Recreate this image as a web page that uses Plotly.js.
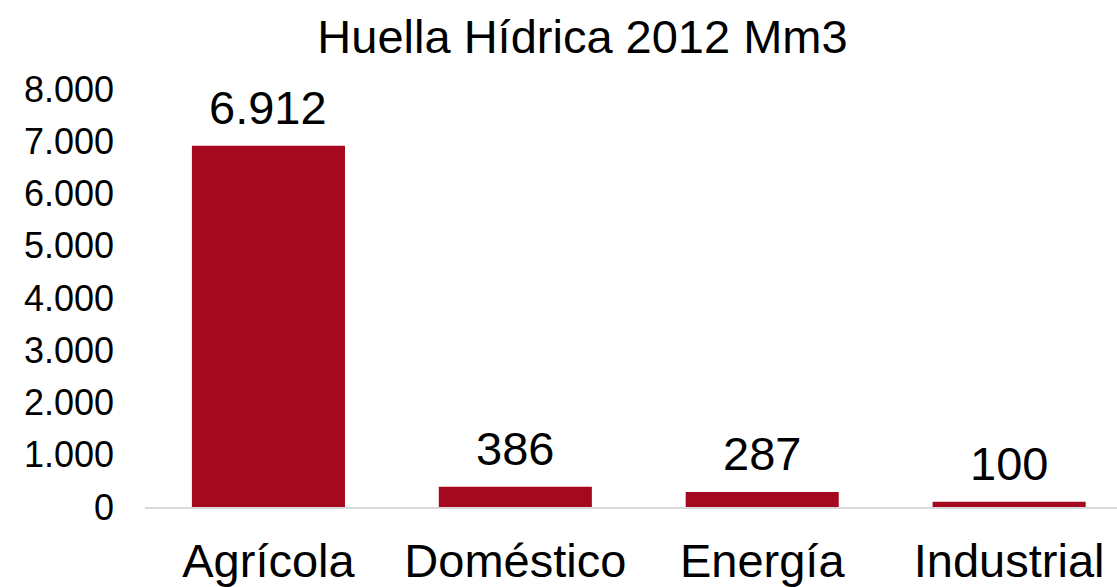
<!DOCTYPE html>
<html>
<head>
<meta charset="utf-8">
<script src="https://cdn.plot.ly/plotly-3.0.1.min.js"></script>
<style>html,body{margin:0;padding:0;background:#fff;}#chart{width:1117px;height:587px;}</style>
</head>
<body>
<div id="chart"></div>
<script>
const categories = ["Agrícola", "Doméstico", "Energía", "Industrial"];
const values = [6912, 386, 287, 100];
const valueLabels = ["6.912", "386", "287", "100"];
const yTickValues = [0, 1000, 2000, 3000, 4000, 5000, 6000, 7000, 8000];
const yTickLabels = ["0", "1.000", "2.000", "3.000", "4.000", "5.000", "6.000", "7.000", "8.000"];
const chartTitle = "Huella Hídrica 2012 Mm3";

const FONT = "Liberation Sans, Arial, sans-serif";
const BAR_COLOR = "#A5091F";

const trace = {
  type: "bar",
  x: categories,
  y: values,
  marker: { color: BAR_COLOR },
  hoverinfo: "skip"
};

const annotations = categories.map((c, i) => ({
  x: c, y: values[i], xref: "x", yref: "y",
  text: valueLabels[i], showarrow: false,
  yanchor: "bottom", xanchor: "center", yshift: 10,
  font: { family: FONT, size: 47, color: "#000" }
}));

const layout = {
  width: 1117, height: 587,
  paper_bgcolor: "#fff", plot_bgcolor: "#fff",
  margin: { l: 145, r: 0, t: 89, b: 80 },
  showlegend: false,
  bargap: 0.38,
  title: {
    text: chartTitle,
    font: { family: FONT, size: 47, color: "#000" },
    x: 0.5215, xref: "container", xanchor: "center",
    y: 1 - 37 / 587, yref: "container", yanchor: "middle"
  },
  xaxis: {
    type: "category",
    range: [-0.5, 3.437],
    showgrid: false, zeroline: false,
    showline: true, linecolor: "#d9d9d9", linewidth: 1.5,
    ticks: "",
    ticklabelstandoff: 12,
    tickfont: { family: FONT, size: 47, color: "#000" },
    fixedrange: true
  },
  yaxis: {
    range: [0, 8000],
    tickvals: yTickValues, ticktext: yTickLabels,
    showgrid: false, zeroline: false, showline: false,
    ticks: "",
    ticklabelstandoff: 30,
    tickfont: { family: FONT, size: 36, color: "#000" },
    fixedrange: true
  },
  annotations: annotations
};

Plotly.newPlot("chart", [trace], layout, { displayModeBar: false, staticPlot: true });
</script>
</body>
</html>
